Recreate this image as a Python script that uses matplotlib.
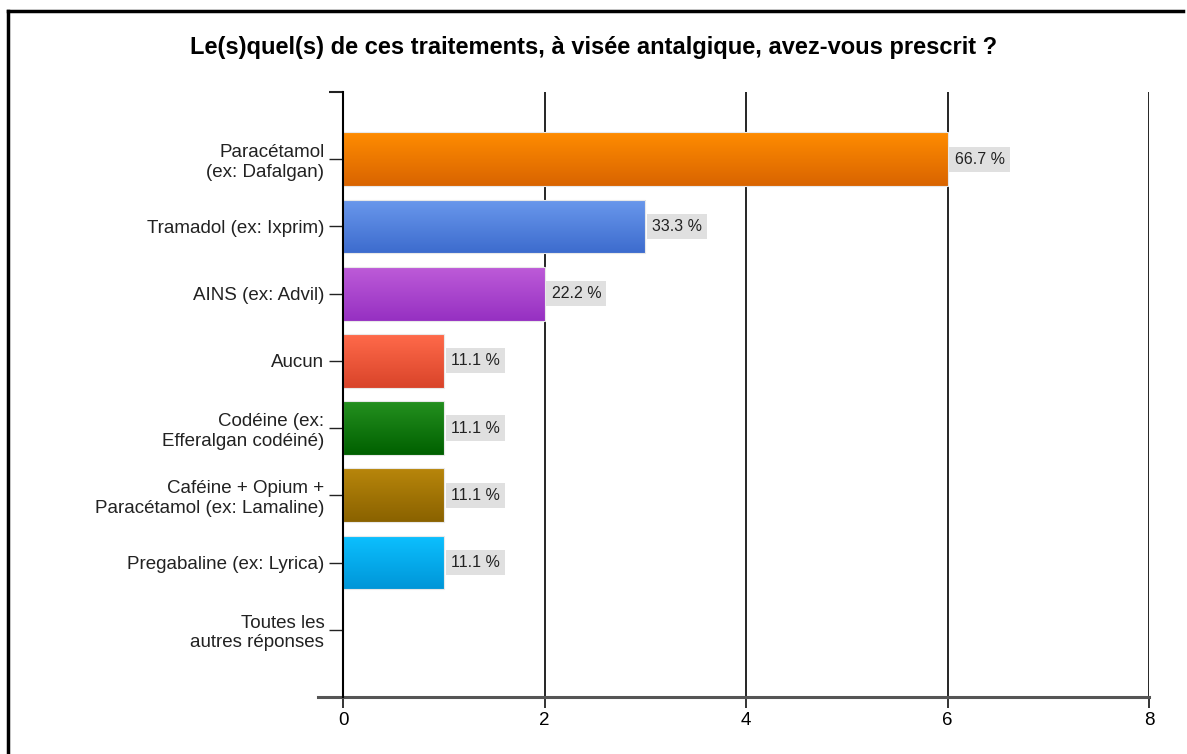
import matplotlib
matplotlib.use('Agg')
import matplotlib.pyplot as plt
import numpy as np
from matplotlib.colors import LinearSegmentedColormap
from matplotlib.lines import Line2D

plt.rcParams['font.family'] = ['Liberation Sans', 'DejaVu Sans']

categories = ['Paracétamol\n(ex: Dafalgan)', 'Tramadol (ex: Ixprim)', 'AINS (ex: Advil)',
              'Aucun', 'Codéine (ex:\nEfferalgan codéiné)',
              'Caféine + Opium +\nParacétamol (ex: Lamaline)',
              'Pregabaline (ex: Lyrica)', 'Toutes les\nautres réponses']
counts = [6, 3, 2, 1, 1, 1, 1, 0]
percents = ['66.7 %', '33.3 %', '22.2 %', '11.1 %', '11.1 %', '11.1 %', '11.1 %', '']
# (top colour, bottom colour) for each bar's gradient
colors = [('#ff8c00', '#d96400'), ('#6a98ec', '#3d6cce'), ('#bd5bd8', '#9630c2'),
          ('#ff6a4a', '#d9442a'), ('#24901f', '#006000'), ('#b8860b', '#8a6200'),
          ('#0cc0ff', '#0096d8')]
xticks = [0, 2, 4, 6, 8]

fig = plt.figure(figsize=(11.87, 7.54), dpi=100)
ax = fig.add_axes([0.289, 0.0756, 0.679, 0.8024])

pos = np.arange(1, len(categories) + 1)
bars = ax.barh(pos, counts, height=0.8, color='none', edgecolor='#e8e8e8', linewidth=0.8, zorder=3)

for bar, (c1, c2) in zip(bars, colors):
    x0, y0 = bar.get_x(), bar.get_y()
    w, h = bar.get_width(), bar.get_height()
    cmap = LinearSegmentedColormap.from_list('g', [c1, c2])
    grad = np.linspace(0, 1, 64).reshape(-1, 1)
    im = ax.imshow(grad, cmap=cmap, aspect='auto', extent=(x0, x0 + w, y0 + h, y0),
                   origin='upper', zorder=2)
    im.set_clip_path(bar)

for y, v, p in zip(pos, counts, percents):
    if p:
        ax.text(v + 0.07, y, p, va='center', ha='left', fontsize=11.5, color='#222222',
                bbox=dict(boxstyle='square,pad=0.32', fc='#e0e0e0', ec='none'), zorder=4)

ax.set_xlim(0, 8)
ax.set_ylim(9, 0)
ax.set_xticks(xticks)
ax.set_xticklabels([str(t) for t in xticks], fontsize=13.5)
ax.set_yticks(pos)
ax.set_yticklabels(categories, fontsize=13.5, multialignment='right', color='#222222')
ax.tick_params(axis='y', length=10, width=1, color='#222222', pad=3.5)
ax.tick_params(axis='x', length=8, width=1.2, color='#111111', pad=2.5)
ax.set_yticks([0], minor=True)
ax.tick_params(axis='y', which='minor', length=10, width=1.5, color='#222222')

ax.grid(axis='x', color='black', linewidth=1.2, zorder=0)
for s in ['top', 'right']:
    ax.spines[s].set_visible(False)
ax.spines['left'].set_color('black')
ax.spines['left'].set_linewidth(1.5)
ax.spines['left'].set_zorder(5)
ax.spines['bottom'].set_color('#555555')
ax.spines['bottom'].set_linewidth(2.2)
ax.spines['bottom'].set_bounds(-0.25, 8)
ax.set_axisbelow(True)

fig.text(0.5, 0.937, 'Le(s)quel(s) de ces traitements, à visée antalgique, avez-vous prescrit ?',
         ha='center', va='center', fontsize=17, fontweight='bold')

fig.add_artist(Line2D([8 / 1187, 8 / 1187], [0, 1 - 11 / 754], transform=fig.transFigure,
                      color='black', linewidth=2.5))
fig.add_artist(Line2D([8 / 1187, 1183 / 1187], [1 - 11 / 754, 1 - 11 / 754],
                      transform=fig.transFigure, color='black', linewidth=2.5))

fig.savefig('out.png', dpi=100)
